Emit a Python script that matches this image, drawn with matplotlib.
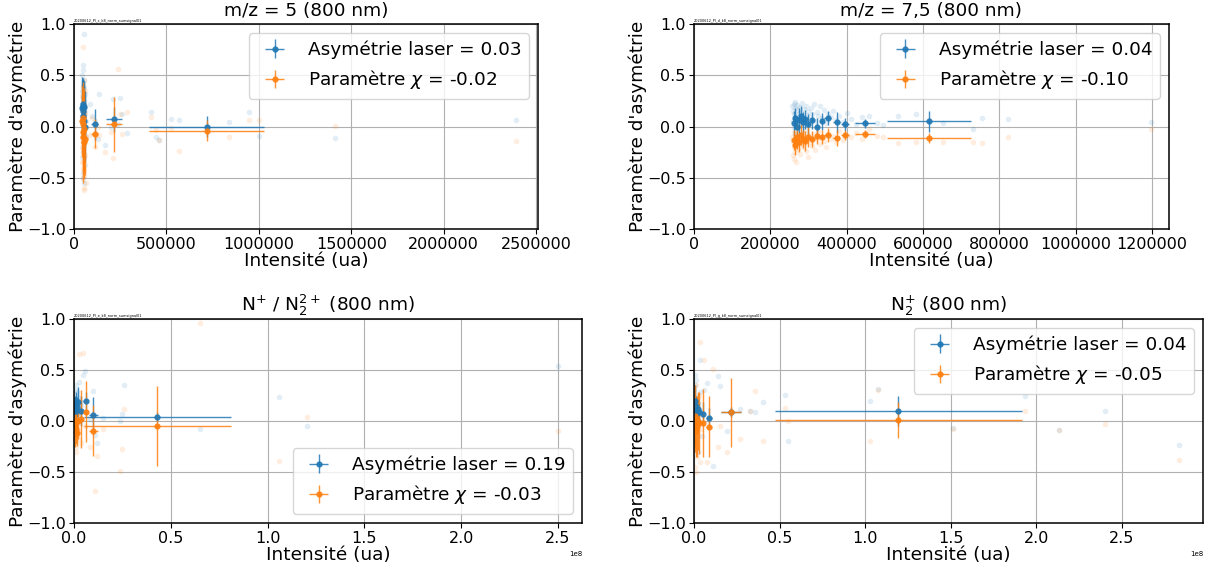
import matplotlib
matplotlib.use("Agg")
from matplotlib import pyplot as plt

# m/z = 5 : faint raw points (same intensity for both parameters)
tl_x = [41000, 43000, 44000, 45000, 45500, 46000, 46500, 47000, 47500, 48000,
        48500, 49000, 49500, 50000, 50500, 51000, 51500, 52000, 52500, 53000,
        53500, 54000, 55000, 56000, 57000, 58000, 59000, 60000, 62000, 65000,
        44500, 47200, 49800, 51200, 53800, 46800, 48800, 50800, 52800, 55500,
        88000, 98000, 113000, 127000, 137000, 165000, 200000, 213000, 236000, 250000, 261000, 285000,
        417000, 444000, 460000, 523000, 568000, 840000, 949000, 1003000, 1412000, 2392000]
tl_blue = [0.35, -0.3, 0.5, 0.1, 0.22, -0.45, 0.3, 0.05, 0.42, 0.15,
           -0.15, 0.28, 0.6, 0.0, 0.18, -0.25, 0.38, 0.9, 0.12, -0.05,
           0.25, 0.45, -0.55, 0.08, 0.2, -0.38, 0.15, 0.32, -0.1, 0.05,
           0.2, -0.2, 0.55, 0.1, 0.3, -0.5, 0.4, 0.02, 0.26, -0.08,
           0.22, 0.1, 0.05, -0.12, 0.32, -0.18, 0.0, 0.27, 0.02, 0.28, 0.12, -0.06,
           0.14, -0.105, -0.13, 0.07, 0.06, 0.04, 0.145, -0.09, -0.115, 0.06]
tl_orange = [-0.1, 0.3, -0.35, 0.05, -0.2, 0.4, -0.05, -0.5, 0.15, -0.25,
             0.1, -0.4, 0.78, -0.15, 0.02, 0.25, -0.3, -0.1, 0.45, -0.6,
             0.0, -0.18, 0.2, -0.42, -0.08, 0.12, -0.28, 0.35, -0.55, -0.12,
             0.08, -0.22, 0.18, -0.48, -0.03, 0.28, -0.15, -0.35, 0.06, -0.62,
             -0.08, 0.08, -0.2, 0.0, -0.08, -0.25, -0.05, -0.31, 0.565, 0.12, -0.07, 0.14,
             0.09, -0.03, -0.13, -0.015, -0.24, -0.105, 0.06, 0.06, 0.005, -0.14]
# m/z = 5 : binned values
tl_bx = [44000, 46000, 48000, 49500, 51000, 52500, 54000, 57000, 112000, 216000, 718000]
tl_bxerr = [1500, 1000, 1000, 800, 800, 800, 1000, 2500, 18000, 42000, 310000]
tl_bblue = [0.18, 0.22, 0.1, 0.2, 0.15, 0.05, 0.19, 0.0, 0.02, 0.07, 0.0]
tl_bblue_err = [0.3, 0.25, 0.35, 0.25, 0.3, 0.35, 0.25, 0.35, 0.15, 0.12, 0.1]
tl_borange = [0.05, -0.05, 0.02, -0.1, 0.08, -0.02, -0.15, -0.12, -0.07, 0.02, -0.04]
tl_borange_err = [0.35, 0.4, 0.3, 0.45, 0.35, 0.4, 0.35, 0.35, 0.14, 0.27, 0.1]

# m/z = 7,5
tr_x = [258000, 259000, 260000, 261000, 262000, 263000, 264000, 265000, 266000, 267000,
        268000, 270000, 271000, 273000, 275000, 277000, 279000, 281000, 283000, 285000,
        288000, 290000, 293000, 296000, 299000, 302000, 306000, 310000, 314000, 318000,
        322000, 326000, 330000, 335000, 340000, 345000, 352000, 358000, 365000, 372000,
        380000, 390000, 400000, 412000, 425000, 440000, 460000, 480000,
        496000, 535000, 583000, 653000, 732000, 754000, 824000, 1199000]
tr_blue = [0.2, 0.05, 0.15, 0.22, 0.0, 0.12, 0.18, 0.08, 0.24, 0.1,
           0.03, 0.16, 0.21, 0.06, 0.13, 0.19, 0.01, 0.14, 0.23, 0.09,
           0.17, 0.04, 0.2, 0.11, 0.15, 0.07, 0.18, 0.12, 0.22, 0.05,
           0.14, 0.1, 0.2, 0.08, 0.16, 0.03, 0.12, 0.09, 0.15, 0.06,
           0.1, 0.04, 0.13, 0.07, 0.02, 0.09, 0.1, 0.03,
           0.015, 0.102, 0.122, 0.037, -0.024, 0.08, 0.07, 0.047]
tr_orange = [-0.1, -0.28, -0.15, -0.05, -0.32, -0.2, -0.12, -0.25, -0.08, -0.18,
             -0.35, -0.14, -0.06, -0.22, -0.1, -0.17, -0.27, -0.09, -0.13, -0.2,
             -0.04, -0.16, -0.24, -0.11, -0.3, -0.08, -0.15, -0.19, -0.07, -0.23,
             -0.12, -0.05, -0.17, -0.1, -0.14, -0.2, -0.06, -0.12, -0.09, -0.15,
             -0.04, -0.13, -0.08, -0.1, -0.06, -0.12, -0.02, -0.09,
             -0.1, -0.164, -0.148, -0.148, -0.148, -0.158, -0.1, -0.024]
tr_bx = [262000, 266000, 270000, 275000, 280000, 286000, 292000, 300000, 310000, 322000,
         335000, 350000, 374000, 396000, 448000, 617000]
tr_bxerr = [2000, 2000, 2000, 2500, 3000, 3000, 3000, 4000, 5000, 6000,
            6000, 8000, 10000, 10000, 27000, 110000]
tr_bblue = [0.03, 0.08, 0.0, 0.06, 0.1, 0.04, 0.07, 0.02, 0.06, 0.0, 0.05, 0.08, 0.04, 0.02, 0.03, 0.05]
tr_bblue_err = [0.12, 0.1, 0.1, 0.12, 0.1, 0.1, 0.09, 0.1, 0.08, 0.08, 0.08, 0.07, 0.1, 0.06, 0.04, 0.1]
tr_borange = [-0.13, -0.18, -0.1, -0.15, -0.08, -0.12, -0.14, -0.1, -0.12, -0.09,
              -0.1, -0.08, -0.11, -0.08, -0.07, -0.11]
tr_borange_err = [0.1, 0.1, 0.12, 0.1, 0.1, 0.09, 0.1, 0.1, 0.08, 0.08, 0.07, 0.07, 0.08, 0.05, 0.04, 0.05]

# N+ / N2 2+
bl_x = [0.2e6, 0.3e6, 0.4e6, 0.5e6, 0.6e6, 0.7e6, 0.8e6, 0.9e6, 1.0e6, 1.1e6,
        1.2e6, 1.4e6, 1.6e6, 1.8e6, 2.0e6, 2.2e6, 2.5e6, 2.8e6, 3.0e6, 3.5e6,
        4.6e6, 5.5e6, 8.0e6, 9.8e6, 10.8e6, 11.7e6, 15.1e6, 23.6e6, 25.0e6, 26.0e6,
        65.0e6, 106.0e6, 120.5e6, 249.8e6]
bl_blue = [0.15, 0.25, 0.05, 0.3, 0.12, 0.2, 0.08, 0.35, 0.18, 0.1,
           0.22, 0.0, 0.28, 0.14, 0.06, 0.24, 0.38, 0.1, 0.2, 0.16,
           0.45, 0.49, 0.02, 0.29, -0.14, -0.22, 0.03, 0.0, 0.07, 0.35,
           -0.08, 0.235, -0.05, 0.54]
bl_orange = [-0.05, 0.1, -0.15, 0.0, -0.2, 0.05, -0.1, -0.25, 0.15, -0.08,
             -0.3, 0.02, -0.12, 0.2, -0.18, -0.02, 0.66, -0.1, 0.08, -0.22,
             0.67, -0.05, -0.25, -0.1, -0.69, -0.34, -0.08, -0.49, -0.27, 0.12,
             0.96, -0.39, 0.036, -0.1]
bl_bx = [0.3e6, 0.6e6, 0.9e6, 1.2e6, 1.6e6, 2.1e6, 3.8e6, 6.0e6, 10.0e6, 43.0e6]
bl_bxerr = [0.1e6, 0.1e6, 0.15e6, 0.15e6, 0.2e6, 0.3e6, 1.0e6, 1.2e6, 2.5e6, 38.0e6]
bl_bblue = [0.15, 0.12, 0.18, 0.1, 0.14, 0.19, 0.1, 0.2, 0.055, 0.04]
bl_bblue_err = [0.1, 0.12, 0.1, 0.12, 0.1, 0.14, 0.15, 0.08, 0.18, 0.05]
bl_borange = [-0.05, -0.1, 0.0, -0.08, -0.12, 0.0, 0.02, 0.09, -0.095, -0.05]
bl_borange_err = [0.12, 0.15, 0.12, 0.15, 0.12, 0.18, 0.28, 0.3, 0.25, 0.39]

# N2+
br_x = [0.2e6, 0.3e6, 0.4e6, 0.5e6, 0.6e6, 0.7e6, 0.8e6, 0.9e6, 1.0e6, 1.2e6,
        1.4e6, 1.6e6, 1.8e6, 2.0e6, 2.3e6, 2.6e6, 3.0e6, 3.5e6, 4.0e6, 4.5e6,
        3.5e6, 6.0e6, 7.6e6, 11.3e6, 14.2e6, 15.2e6, 19.0e6, 27.0e6, 32.7e6, 35.6e6,
        40.5e6, 53.1e6, 55.0e6, 103.0e6, 107.6e6, 151.4e6, 193.3e6, 213.0e6, 240.0e6, 283.0e6]
br_blue = [0.3, 0.1, 0.45, 0.2, -0.1, 0.35, 0.15, 0.05, 0.25, -0.2,
           0.4, 0.12, 0.0, 0.22, 0.18, -0.3, 0.08, 0.28, 0.1, -0.15,
           0.6, 0.3, 0.37, -0.44, 0.44, 0.34, -0.1, 0.12, 0.1, 0.085,
           0.19, 0.255, -0.2, 0.2, 0.31, -0.07, 0.245, -0.085, 0.1, -0.235]
br_orange = [-0.1, 0.2, -0.3, 0.05, -0.45, 0.1, -0.2, 0.35, -0.05, -0.5,
             0.15, -0.25, 0.0, -0.35, 0.12, -0.15, 0.25, -0.4, -0.08, 0.06,
             0.77, 0.6, -0.4, 0.51, -0.25, -0.05, -0.3, -0.18, 0.1, 0.29,
             -0.2, 0.13, 0.0, -0.2, 0.3, -0.08, 0.1, -0.085, -0.03, -0.38]
br_bx = [0.3e6, 0.6e6, 1.0e6, 1.5e6, 2.2e6, 2.9e6, 5.0e6, 8.8e6, 21.4e6, 119.3e6]
br_bxerr = [0.1e6, 0.15e6, 0.2e6, 0.3e6, 0.4e6, 0.5e6, 1.0e6, 1.5e6, 5.8e6, 72.0e6]
br_bblue = [0.2, 0.1, 0.15, 0.08, 0.12, 0.085, 0.07, 0.032, 0.085, 0.098]
br_bblue_err = [0.15, 0.12, 0.1, 0.12, 0.1, 0.1, 0.12, 0.1, 0.05, 0.15]
br_borange = [-0.05, 0.05, -0.1, -0.05, 0.0, -0.02, -0.02, -0.056, 0.085, 0.01]
br_borange_err = [0.25, 0.3, 0.25, 0.3, 0.28, 0.3, 0.33, 0.3, 0.335, 0.18]

titles = ["m/z = 5 (800 nm)", "m/z = 7,5 (800 nm)",
          "N$^{+}$ / N$_2^{2+}$ (800 nm)", "N$_2^{+}$ (800 nm)"]
asym = ["0.03", "0.04", "0.19", "0.04"]
chi = ["-0.02", "-0.10", "-0.03", "-0.05"]
files = ["20200612_PI_c_k8_norm_sumsignal01", "20200612_PI_d_k8_norm_sumsignal01",
         "20200612_PI_e_k8_norm_sumsignal01", "20200612_PI_g_k8_norm_sumsignal01"]

panels = [
    (tl_x, tl_blue, tl_orange, tl_bx, tl_bxerr, tl_bblue, tl_bblue_err, tl_borange, tl_borange_err),
    (tr_x, tr_blue, tr_orange, tr_bx, tr_bxerr, tr_bblue, tr_bblue_err, tr_borange, tr_borange_err),
    (bl_x, bl_blue, bl_orange, bl_bx, bl_bxerr, bl_bblue, bl_bblue_err, bl_borange, bl_borange_err),
    (br_x, br_blue, br_orange, br_bx, br_bxerr, br_bblue, br_bblue_err, br_borange, br_borange_err),
]
positions = [[0.0613, 0.5975, 0.3841, 0.3603], [0.5745, 0.5975, 0.3932, 0.3603],
             [0.0613, 0.0808, 0.4205, 0.3585], [0.5745, 0.0808, 0.4214, 0.3585]]
xmax = [2.51e6, 1.245e6, 2.624e8, 2.973e8]
legloc = ["upper right", "upper right", "lower right", "upper right"]

fig = plt.figure(figsize=(12.08, 5.69), dpi=100)

for i in range(4):
    x, yb, yo, bx, bxe, bb, bbe, bo, boe = panels[i]
    ax = fig.add_axes(positions[i])
    ax.scatter(x, yb, s=16, color="C0", alpha=0.13, linewidths=0)
    ax.scatter(x, yo, s=16, color="C1", alpha=0.13, linewidths=0)
    ax.errorbar(bx, bb, xerr=bxe, yerr=bbe, fmt="o", ms=3.5, color="C0", elinewidth=1,
                alpha=0.85, label="Asymétrie laser = " + asym[i])
    ax.errorbar(bx, bo, xerr=bxe, yerr=boe, fmt="o", ms=3.5, color="C1", elinewidth=1,
                alpha=0.85, label="Paramètre $\\chi$ = " + chi[i])
    ax.set_xlim(0, xmax[i])
    ax.set_ylim(-1, 1)
    ax.set_yticks([-1.0, -0.5, 0.0, 0.5, 1.0])
    ax.grid(True, color="#b0b0b0", lw=0.8)
    ax.set_axisbelow(True)
    if i < 2:
        ax.ticklabel_format(axis="x", style="plain")
    ax.xaxis.get_offset_text().set_fontsize(5)
    ax.tick_params(labelsize=11.5, pad=2.5)
    ax.set_title(titles[i], fontsize=13.3)
    ax.set_xlabel("Intensité (ua)", fontsize=13.3, labelpad=0)
    ax.set_ylabel("Paramètre d'asymétrie", fontsize=13.3, labelpad=0)
    ax.text(0, 1.008, files[i], transform=ax.transAxes, fontsize=2.5)
    for sp in ax.spines.values():
        sp.set_linewidth(1.1)
    ax.legend(loc=legloc[i], fontsize=13.3)

fig.savefig("out.png", dpi=100)
